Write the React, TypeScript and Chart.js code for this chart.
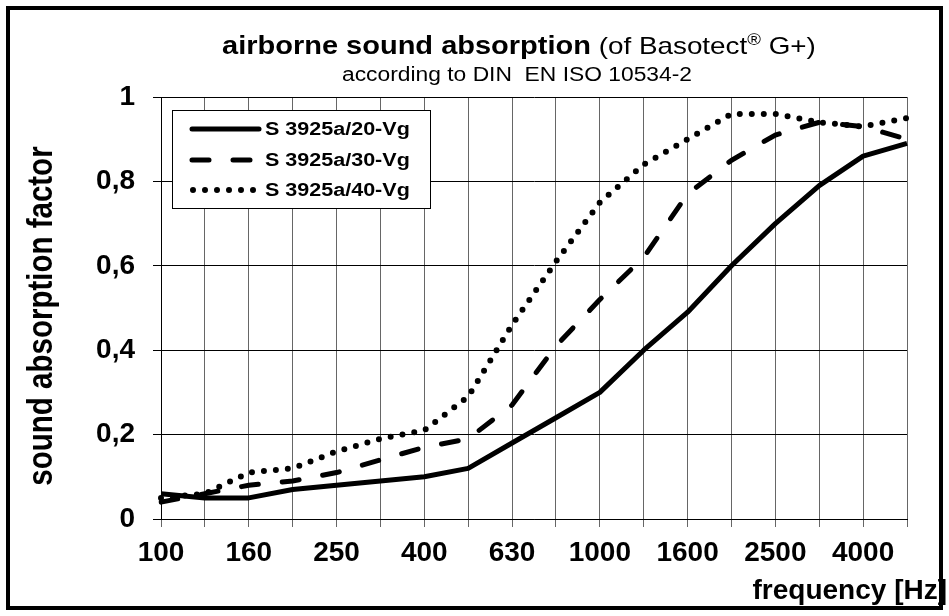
import React, { useEffect, useRef } from "react";
import { Chart, registerables } from "chart.js";

Chart.register(...registerables);

const frequencies = ["100", "125", "160", "200", "250", "315", "400", "500", "630", "800", "1000", "1250", "1600", "2000", "2500", "3150", "4000", "5000"];
const s20Vg = [0.06, 0.05, 0.05, 0.07, 0.08, 0.09, 0.10, 0.12, 0.18, 0.24, 0.30, 0.40, 0.49, 0.60, 0.70, 0.79, 0.86, 0.89];
const s30Vg = [0.04, 0.06, 0.08, 0.09, 0.11, 0.14, 0.17, 0.19, 0.27, 0.41, 0.52, 0.62, 0.77, 0.85, 0.91, 0.94, 0.93, 0.90];
const s40Vg = [0.05, 0.06, 0.11, 0.12, 0.16, 0.19, 0.21, 0.29, 0.46, 0.61, 0.75, 0.84, 0.90, 0.96, 0.96, 0.94, 0.93, 0.95];
const seriesNames = ["S 3925a/20-Vg", "S 3925a/30-Vg", "S 3925a/40-Vg"];
const titleBold = "airborne sound absorption";
const titleRest = " (of Basotect";
const titleMark = "\u00AE";
const titleEnd = " G+)";
const subtitle = "according to DIN  EN ISO 10534-2";
const yTitle = "sound absorption factor";
const xTitle = "frequency [Hz]";

const FONT = "'Liberation Sans', Arial, Helvetica, sans-serif";
const DASH = [17, 24];
const DOT = [0, 12];
const SX = 1.16; // horizontal stretch of the original text

function stretchText(ctx: CanvasRenderingContext2D, text: string, x: number, y: number, sx: number) {
  ctx.save();
  ctx.translate(x, y);
  ctx.scale(sx, 1);
  ctx.fillText(text, 0, 0);
  ctx.restore();
}

const decoPlugin = {
  id: "deco",
  beforeDraw(chart: any) {
    const ctx = chart.ctx;
    ctx.save();
    ctx.fillStyle = "#fff";
    ctx.fillRect(0, 0, chart.width, chart.height);
    ctx.restore();
  },
  afterDraw(chart: any) {
    const ctx = chart.ctx as CanvasRenderingContext2D;
    ctx.save();
    ctx.fillStyle = "#000";
    // title
    ctx.textBaseline = "alphabetic";
    ctx.textAlign = "left";
    const bFont = `bold 25px ${FONT}`;
    const nFont = `24px ${FONT}`;
    const sFont = `16px ${FONT}`;
    const by = 53.5;
    let x = 222;
    ctx.font = bFont;
    stretchText(ctx, titleBold, x, by, SX);
    x += ctx.measureText(titleBold).width * SX;
    ctx.font = nFont;
    stretchText(ctx, titleRest, x, by, SX);
    x += ctx.measureText(titleRest).width * SX;
    ctx.font = sFont;
    stretchText(ctx, titleMark, x, by - 9, SX);
    x += ctx.measureText(titleMark).width * SX;
    ctx.font = nFont;
    stretchText(ctx, titleEnd, x, by, SX);
    // subtitle
    ctx.font = `19.5px ${FONT}`;
    stretchText(ctx, subtitle, 342, 81, 1.17);
    // y title
    ctx.save();
    ctx.translate(52, 316);
    ctx.rotate(-Math.PI / 2);
    ctx.scale(1, 1.2);
    ctx.font = `bold 29.5px ${FONT}`;
    ctx.textAlign = "center";
    ctx.fillText(yTitle, 0, 0);
    ctx.restore();
    // x title
    ctx.font = `bold 28px ${FONT}`;
    ctx.textAlign = "right";
    ctx.fillText(xTitle, 947, 599);

    // legend
    const lx = 172, ly = 110, lw = 258, lh = 98;
    ctx.fillStyle = "#fff";
    ctx.fillRect(lx, ly, lw, lh);
    ctx.strokeStyle = "#000";
    ctx.lineWidth = 1;
    ctx.strokeRect(lx + 0.5, ly + 0.5, lw, lh);
    const rows = [129, 160, 190];
    const styles = [
      { dash: [] as number[], w: 5 },
      { dash: DASH, w: 5 },
      { dash: DOT, w: 6 },
    ];
    rows.forEach((ry, i) => {
      ctx.beginPath();
      ctx.setLineDash(styles[i].dash);
      ctx.lineWidth = styles[i].w;
      ctx.lineCap = "round";
      ctx.moveTo(i === 2 ? 193 : 192, ry);
      ctx.lineTo(i === 1 ? 262 : 259, ry);
      ctx.stroke();
      ctx.setLineDash([]);
      ctx.fillStyle = "#000";
      ctx.font = `bold 17.5px ${FONT}`;
      ctx.textAlign = "left";
      ctx.textBaseline = "middle";
      stretchText(ctx, seriesNames[i], 265, ry + 1, 1.23);
    });

    // outer frame
    ctx.strokeStyle = "#000";
    ctx.lineWidth = 4;
    ctx.strokeRect(8, 8, 933, 600);
    ctx.restore();
  },
};

export default function App() {
  const ref = useRef<HTMLCanvasElement | null>(null);
  useEffect(() => {
    document.body.style.margin = "0";
    const canvas = ref.current!;
    const chart = new Chart(canvas, {
      type: "line",
      data: {
        labels: frequencies,
        datasets: [
          {
            label: seriesNames[0],
            data: s20Vg,
            borderColor: "#000",
            borderWidth: 5,
            pointRadius: 0,
            tension: 0,
            borderJoinStyle: "round",
          },
          {
            label: seriesNames[1],
            data: s30Vg,
            borderColor: "#000",
            borderWidth: 5,
            borderDash: DASH,
            borderCapStyle: "round",
            pointRadius: 0,
            tension: 0,
          },
          {
            label: seriesNames[2],
            data: s40Vg,
            borderColor: "#000",
            borderWidth: 6,
            borderDash: DOT,
            borderCapStyle: "round",
            pointRadius: 0,
            tension: 0,
          },
        ],
      },
      options: {
        responsive: false,
        animation: false,
        devicePixelRatio: 1,
        layout: { padding: { top: 97, right: 42, left: 0, bottom: 0 } },
        plugins: {
          legend: { display: false },
          title: { display: false },
          tooltip: { enabled: false },
        },
        scales: {
          x: {
            type: "category",
            offset: false,
            afterFit: (s: any) => {
              s.height = 97;
            },
            grid: { color: "#666", lineWidth: 1, tickLength: 8, drawTicks: true },
            border: { color: "#000", width: 1 },
            ticks: {
              autoSkip: false,
              maxRotation: 0,
              minRotation: 0,
              padding: 9,
              color: "#000",
              font: { family: FONT, size: 28, weight: "bold" },
              callback: (_v: any, i: number) => (i % 2 === 0 ? frequencies[i] : ""),
            },
          },
          y: {
            min: 0,
            max: 1,
            afterFit: (s: any) => {
              s.width = 161;
            },
            grid: { color: "#000", lineWidth: 1, tickLength: 8 },
            border: { color: "#000", width: 1 },
            ticks: {
              stepSize: 0.2,
              padding: 18,
              color: "#000",
              font: { family: FONT, size: 28, weight: "bold" },
              callback: (v: any) => {
                const n = Number(v);
                if (Math.abs(n) < 1e-9) return "0";
                if (Math.abs(n - 1) < 1e-9) return "1";
                return n.toFixed(1).replace(".", ",");
              },
            },
          },
        },
      },
      plugins: [decoPlugin],
    } as any);
    return () => chart.destroy();
  }, []);
  return (
    <div style={{ position: "absolute", left: 0, top: 0, width: 949, height: 616 }}>
      <canvas ref={ref} width={949} height={616} style={{ display: "block", width: 949, height: 616 }} />
    </div>
  );
}
